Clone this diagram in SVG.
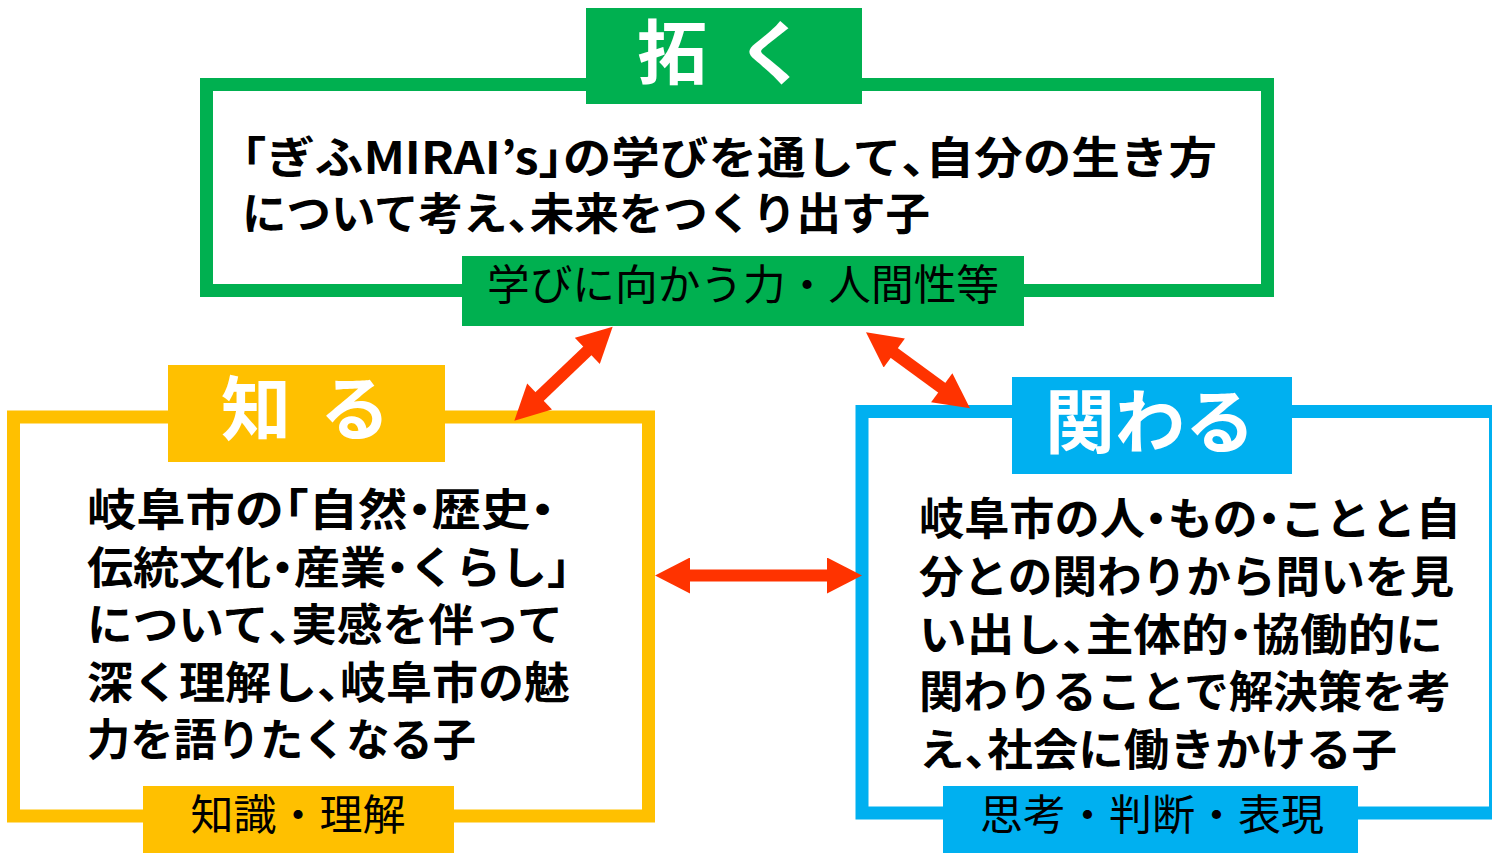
<svg xmlns="http://www.w3.org/2000/svg" width="1492" height="853" viewBox="0 0 1492 853">
  <style>
    .frame { fill: #FFFFFF; stroke-width: 13; }
    .body { font-family: "Noto Sans CJK JP", "Noto Sans", sans-serif; font-weight: 700; font-size: 44px; fill: #000000; }
    .h { font-feature-settings: "halt"; }
    .title { font-family: "Noto Sans CJK JP", "Noto Sans", sans-serif; font-weight: 700; font-size: 70px; fill: #FFFFFF; text-anchor: middle; }
    .tag { font-family: "Noto Sans CJK JP", "Noto Sans", sans-serif; font-weight: 400; font-size: 42px; fill: #000000; text-anchor: middle; }
    .arrow { stroke: #FF3300; stroke-width: 12; fill: none; }
  </style>
  <defs>
    <marker id="head" markerUnits="userSpaceOnUse" markerWidth="36" markerHeight="36" refX="10" refY="18" orient="auto-start-reverse" viewBox="0 0 35 36">
      <path d="M0,0 L35,18 L0,36 z" fill="#FF3300"/>
    </marker>
  </defs>

  <g id="node-hiraku">
    <rect class="frame" x="206.5" y="84.5" width="1061" height="206" stroke="#00B050"/>
    <rect x="586" y="8" width="276" height="96" fill="#00B050"/>
    <text class="title" x="722" y="79" textLength="170" lengthAdjust="spacing">拓 く</text>
    <text class="body" x="242" y="174" textLength="975" lengthAdjust="spacingAndGlyphs"><tspan class="h">「</tspan>ぎふMIRAI’s<tspan class="h">」</tspan>の学びを通して<tspan class="h">、</tspan>自分の生き方</text>
    <text class="body" x="242" y="230" textLength="688" lengthAdjust="spacingAndGlyphs">について考え<tspan class="h">、</tspan>未来をつくり出す子</text>
    <rect x="462" y="256" width="562" height="70" fill="#00B050"/>
    <text class="tag" x="743" y="300" textLength="512" lengthAdjust="spacingAndGlyphs">学びに向かう力・人間性等</text>
  </g>

  <g id="node-shiru">
    <rect class="frame" x="13.5" y="417" width="635" height="399" stroke="#FFC000"/>
    <rect x="168" y="365" width="277" height="97" fill="#FFC000"/>
    <text class="title" x="305.5" y="435" textLength="169" lengthAdjust="spacing">知 る</text>
    <text class="body" x="87" y="526" textLength="468" lengthAdjust="spacingAndGlyphs">岐阜市の<tspan class="h">「</tspan>自然<tspan class="h">・</tspan>歴史<tspan class="h">・</tspan></text>
    <text class="body" x="87" y="583.5" textLength="483" lengthAdjust="spacingAndGlyphs">伝統文化<tspan class="h">・</tspan>産業<tspan class="h">・</tspan>くらし<tspan class="h">」</tspan></text>
    <text class="body" x="87" y="641" textLength="476" lengthAdjust="spacingAndGlyphs">について<tspan class="h">、</tspan>実感を伴って</text>
    <text class="body" x="87" y="698.5" textLength="483" lengthAdjust="spacingAndGlyphs">深く理解し<tspan class="h">、</tspan>岐阜市の魅</text>
    <text class="body" x="87" y="756" textLength="389" lengthAdjust="spacingAndGlyphs">力を語りたくなる子</text>
    <rect x="143" y="786" width="311" height="67" fill="#FFC000"/>
    <text class="tag" x="298" y="830" textLength="215" lengthAdjust="spacingAndGlyphs">知識・理解</text>
  </g>

  <g id="node-kakawaru">
    <rect class="frame" x="862" y="411.5" width="633.5" height="401.5" stroke="#00B0F0"/>
    <rect x="1012" y="377" width="280" height="97" fill="#00B0F0"/>
    <text class="title" x="1150" y="448">関わる</text>
    <text class="body" x="919" y="535" textLength="542" lengthAdjust="spacingAndGlyphs">岐阜市の人<tspan class="h">・</tspan>もの<tspan class="h">・</tspan>ことと自</text>
    <text class="body" x="919" y="592.7" textLength="535" lengthAdjust="spacingAndGlyphs">分との関わりから問いを見</text>
    <text class="body" x="919" y="650.5" textLength="524" lengthAdjust="spacingAndGlyphs">い出し<tspan class="h">、</tspan>主体的<tspan class="h">・</tspan>協働的に</text>
    <text class="body" x="919" y="708.2" textLength="532" lengthAdjust="spacingAndGlyphs">関わりることで解決策を考</text>
    <text class="body" x="919" y="766" textLength="478" lengthAdjust="spacingAndGlyphs">え<tspan class="h">、</tspan>社会に働きかける子</text>
    <rect x="943" y="786" width="415" height="67" fill="#00B0F0"/>
    <text class="tag" x="1152" y="830" textLength="344" lengthAdjust="spacingAndGlyphs">思考・判断・表現</text>
  </g>

  <g id="connectors">
    <line class="arrow" x1="594.6" y1="344.0" x2="532.4" y2="403.4" marker-start="url(#head)" marker-end="url(#head)"/>
    <line class="arrow" x1="886.2" y1="347.1" x2="949.8" y2="393.6" marker-start="url(#head)" marker-end="url(#head)"/>
    <line class="arrow" x1="680" y1="575.5" x2="837" y2="575.5" marker-start="url(#head)" marker-end="url(#head)"/>
  </g>
</svg>
